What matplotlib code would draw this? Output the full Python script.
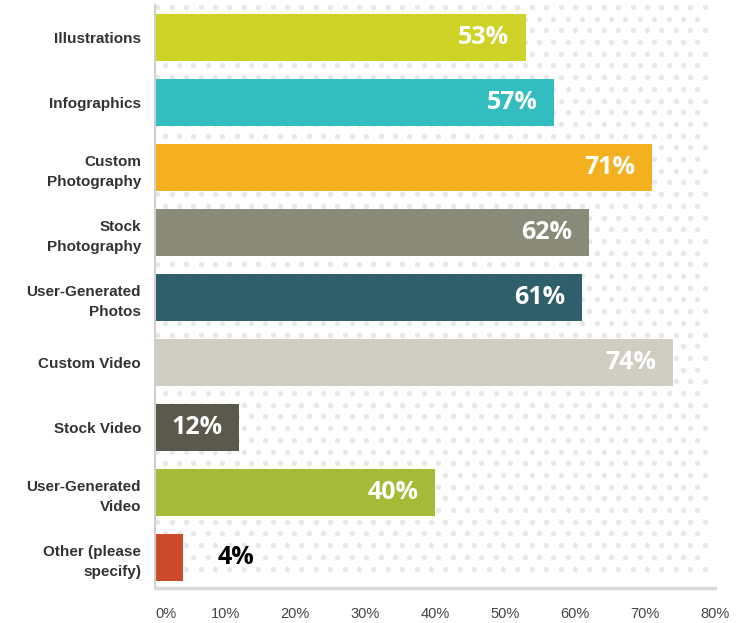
import matplotlib
matplotlib.use("Agg")
import matplotlib.pyplot as plt
import numpy as np

# data
categories = ["Illustrations", "Infographics", "Custom\nPhotography", "Stock\nPhotography",
              "User-Generated\nPhotos", "Custom Video", "Stock Video",
              "User-Generated\nVideo", "Other (please\nspecify)"]
values = [53, 57, 71, 62, 61, 74, 12, 40, 4]
colors = ["#CDD327", "#33BDBF", "#F4B01E", "#898A78", "#2F5F6B",
          "#D0CDC2", "#5A594B", "#A5BA37", "#CC4A2A"]
xticks = [0, 10, 20, 30, 40, 50, 60, 70, 80]

fig = plt.figure(figsize=(7.55, 6.23), dpi=100)
ax = fig.add_axes([155/755, 35/623, 560/755, 583/623])

# dotted background pattern
dx, dy = 80 * 14.4 / 560, 11.7 / 65
rows = np.arange(-0.47, 8.35, dy)
for i, yy in enumerate(rows):
    off = 0 if i % 2 == 0 else dx / 2
    xs = np.arange(0.35 + off, 79.5, dx)
    ax.scatter(xs, np.full_like(xs, yy), s=15, color="#e8e8e8", linewidths=0, zorder=0)

y = np.arange(len(values))
ax.barh(y, values, height=0.72, color=colors, zorder=2)

for yi, v in zip(y, values):
    if v > 8:
        ax.text(v - 2.4, yi, f"{v}%", ha="right", va="center", color="white",
                fontsize=18, fontweight="bold", family="Open Sans", zorder=3)
    else:
        ax.text(v + 5, yi, f"{v}%", ha="left", va="center", color="black",
                fontsize=18, fontweight="bold", family="Open Sans", zorder=3)

ax.set_xlim(0, 80)
ax.set_ylim(8.47, -0.5)
ax.set_yticks(y)
ax.set_yticklabels(categories, fontsize=11, fontweight="bold", color="#333333",
                   family="Liberation Sans", linespacing=1.55)
ax.set_xticks(xticks)
ax.set_xticklabels([f"{t}%" for t in xticks], fontsize=10.5, color="#444444",
                   family="Liberation Sans")
ax.get_xticklabels()[0].set_horizontalalignment("left")
ax.tick_params(axis="both", length=0)
ax.tick_params(axis="x", pad=14)
ax.tick_params(axis="y", pad=10)

for s in ["top", "right"]:
    ax.spines[s].set_visible(False)
ax.spines["left"].set_color("#d0d0d0")
ax.spines["left"].set_linewidth(1.5)
ax.spines["bottom"].set_color("#dadada")
ax.spines["bottom"].set_linewidth(2.5)

fig.savefig("out.png", dpi=100)
